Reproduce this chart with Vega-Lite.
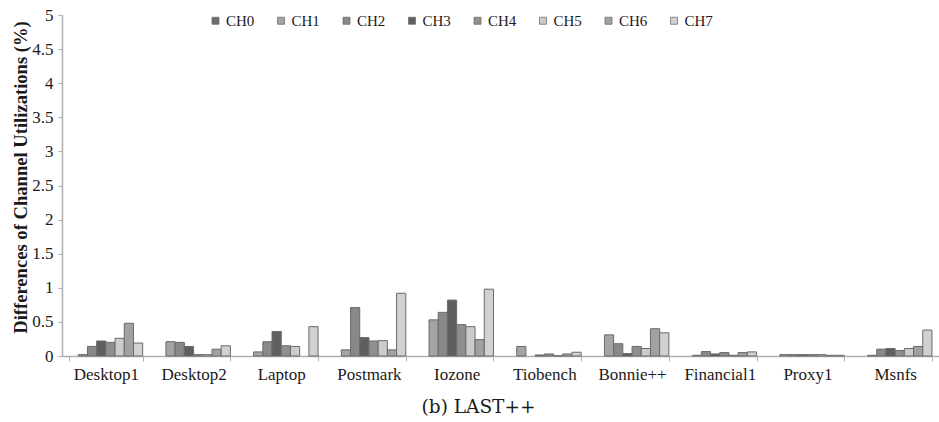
{
  "$schema": "https://vega.github.io/schema/vega-lite/v6.json",
  "width": 877,
  "height": 341,
  "autosize": "none",
  "padding": {"left": 62, "top": 15, "right": 0, "bottom": 66},
  "background": "white",
  "config": {
    "view": {"stroke": null},
    "font": "Liberation Serif"
  },
  "data": {
    "values": [
      {"workload": "Desktop1", "channel": "CH1", "diff": 0.02},
      {"workload": "Desktop1", "channel": "CH2", "diff": 0.14},
      {"workload": "Desktop1", "channel": "CH3", "diff": 0.22},
      {"workload": "Desktop1", "channel": "CH4", "diff": 0.2},
      {"workload": "Desktop1", "channel": "CH5", "diff": 0.26},
      {"workload": "Desktop1", "channel": "CH6", "diff": 0.48},
      {"workload": "Desktop1", "channel": "CH7", "diff": 0.19},
      {"workload": "Desktop2", "channel": "CH1", "diff": 0.21},
      {"workload": "Desktop2", "channel": "CH2", "diff": 0.2},
      {"workload": "Desktop2", "channel": "CH3", "diff": 0.14},
      {"workload": "Desktop2", "channel": "CH4", "diff": 0.02},
      {"workload": "Desktop2", "channel": "CH5", "diff": 0.02},
      {"workload": "Desktop2", "channel": "CH6", "diff": 0.1},
      {"workload": "Desktop2", "channel": "CH7", "diff": 0.15},
      {"workload": "Laptop", "channel": "CH1", "diff": 0.06},
      {"workload": "Laptop", "channel": "CH2", "diff": 0.21},
      {"workload": "Laptop", "channel": "CH3", "diff": 0.36},
      {"workload": "Laptop", "channel": "CH4", "diff": 0.15},
      {"workload": "Laptop", "channel": "CH5", "diff": 0.14},
      {"workload": "Laptop", "channel": "CH7", "diff": 0.43},
      {"workload": "Postmark", "channel": "CH1", "diff": 0.09},
      {"workload": "Postmark", "channel": "CH2", "diff": 0.71},
      {"workload": "Postmark", "channel": "CH3", "diff": 0.27},
      {"workload": "Postmark", "channel": "CH4", "diff": 0.22},
      {"workload": "Postmark", "channel": "CH5", "diff": 0.225},
      {"workload": "Postmark", "channel": "CH6", "diff": 0.09},
      {"workload": "Postmark", "channel": "CH7", "diff": 0.92},
      {"workload": "Iozone", "channel": "CH1", "diff": 0.53},
      {"workload": "Iozone", "channel": "CH2", "diff": 0.64},
      {"workload": "Iozone", "channel": "CH3", "diff": 0.82},
      {"workload": "Iozone", "channel": "CH4", "diff": 0.46},
      {"workload": "Iozone", "channel": "CH5", "diff": 0.43},
      {"workload": "Iozone", "channel": "CH6", "diff": 0.24},
      {"workload": "Iozone", "channel": "CH7", "diff": 0.98},
      {"workload": "Tiobench", "channel": "CH1", "diff": 0.14},
      {"workload": "Tiobench", "channel": "CH3", "diff": 0.015},
      {"workload": "Tiobench", "channel": "CH4", "diff": 0.03},
      {"workload": "Tiobench", "channel": "CH5", "diff": 0.005},
      {"workload": "Tiobench", "channel": "CH6", "diff": 0.03},
      {"workload": "Tiobench", "channel": "CH7", "diff": 0.055},
      {"workload": "Bonnie++", "channel": "CH1", "diff": 0.31},
      {"workload": "Bonnie++", "channel": "CH2", "diff": 0.18},
      {"workload": "Bonnie++", "channel": "CH3", "diff": 0.035},
      {"workload": "Bonnie++", "channel": "CH4", "diff": 0.14},
      {"workload": "Bonnie++", "channel": "CH5", "diff": 0.11},
      {"workload": "Bonnie++", "channel": "CH6", "diff": 0.4},
      {"workload": "Bonnie++", "channel": "CH7", "diff": 0.34},
      {"workload": "Financial1", "channel": "CH1", "diff": 0.01},
      {"workload": "Financial1", "channel": "CH2", "diff": 0.065},
      {"workload": "Financial1", "channel": "CH3", "diff": 0.03},
      {"workload": "Financial1", "channel": "CH4", "diff": 0.05},
      {"workload": "Financial1", "channel": "CH5", "diff": 0.01},
      {"workload": "Financial1", "channel": "CH6", "diff": 0.05},
      {"workload": "Financial1", "channel": "CH7", "diff": 0.06},
      {"workload": "Proxy1", "channel": "CH1", "diff": 0.02},
      {"workload": "Proxy1", "channel": "CH2", "diff": 0.02},
      {"workload": "Proxy1", "channel": "CH3", "diff": 0.02},
      {"workload": "Proxy1", "channel": "CH4", "diff": 0.02},
      {"workload": "Proxy1", "channel": "CH5", "diff": 0.02},
      {"workload": "Proxy1", "channel": "CH6", "diff": 0.01},
      {"workload": "Proxy1", "channel": "CH7", "diff": 0.01},
      {"workload": "Msnfs", "channel": "CH1", "diff": 0.01},
      {"workload": "Msnfs", "channel": "CH2", "diff": 0.1},
      {"workload": "Msnfs", "channel": "CH3", "diff": 0.11},
      {"workload": "Msnfs", "channel": "CH4", "diff": 0.08},
      {"workload": "Msnfs", "channel": "CH5", "diff": 0.11},
      {"workload": "Msnfs", "channel": "CH6", "diff": 0.14},
      {"workload": "Msnfs", "channel": "CH7", "diff": 0.38}
    ]
  },
  "mark": {"type": "bar", "stroke": "#6a6a6a", "strokeWidth": 1},
  "encoding": {
    "x": {
      "field": "workload",
      "type": "nominal",
      "sort": ["Desktop1", "Desktop2", "Laptop", "Postmark", "Iozone", "Tiobench", "Bonnie++", "Financial1", "Proxy1", "Msnfs"],
      "scale": {"paddingInner": 0.16, "paddingOuter": 0.08},
      "axis": {
        "title": "(b) LAST++",
        "titleFont": "DejaVu Serif",
        "titleFontSize": 18.5,
        "titleFontWeight": "normal",
        "titleColor": "#1a1a1a",
        "titleX": 416,
        "titleY": 56,
        "titleAlign": "center",
        "titleBaseline": "alphabetic",
        "labelAngle": 0,
        "labelFont": "Liberation Serif",
        "labelFontSize": 17,
        "labelColor": "#1a1a1a",
        "labelPadding": 5,
        "tickBand": "extent",
        "tickSize": 5,
        "tickColor": "#b0b0b0",
        "domainColor": "#b0b0b0",
        "domainWidth": 1.5
      }
    },
    "xOffset": {
      "field": "channel",
      "type": "nominal",
      "scale": {"domain": ["CH0", "CH1", "CH2", "CH3", "CH4", "CH5", "CH6", "CH7"], "paddingInner": 0, "paddingOuter": 0}
    },
    "y": {
      "field": "diff",
      "type": "quantitative",
      "scale": {"domain": [0, 5], "nice": false},
      "axis": {
        "title": "Differences of Channel Utilizations (%)",
        "titleFont": "Liberation Serif",
        "titleFontSize": 18.6,
        "titleFontWeight": "bold",
        "titleColor": "#1a1a1a",
        "titleAngle": 270,
        "titleX": -36,
        "titleY": 162,
        "titleAlign": "center",
        "titleBaseline": "alphabetic",
        "values": [0, 0.5, 1, 1.5, 2, 2.5, 3, 3.5, 4, 4.5, 5],
        "format": "~g",
        "labelFont": "Liberation Serif",
        "labelFontSize": 17,
        "labelColor": "#1a1a1a",
        "labelPadding": 5,
        "tickSize": 4,
        "tickColor": "#b0b0b0",
        "domainColor": "#b0b0b0",
        "domainWidth": 1.5,
        "grid": false
      }
    },
    "color": {
      "field": "channel",
      "type": "nominal",
      "scale": {
        "domain": ["CH0", "CH1", "CH2", "CH3", "CH4", "CH5", "CH6", "CH7"],
        "range": ["#6c6c6c", "#a4a4a4", "#898989", "#5f5f5f", "#8f8f8f", "#cbcbcb", "#a1a1a1", "#d1d1d1"]
      },
      "legend": {
        "title": null,
        "orient": "none",
        "legendX": 146,
        "legendY": -2,
        "direction": "horizontal",
        "columns": 8,
        "gridAlign": "all",
        "columnPadding": 18.5,
        "symbolType": "square",
        "symbolSize": 49,
        "symbolStrokeColor": "#707070",
        "symbolStrokeWidth": 0.8,
        "labelFont": "Liberation Serif",
        "labelFontSize": 15,
        "labelColor": "#1a1a1a",
        "labelOffset": 3
      }
    }
  }
}
